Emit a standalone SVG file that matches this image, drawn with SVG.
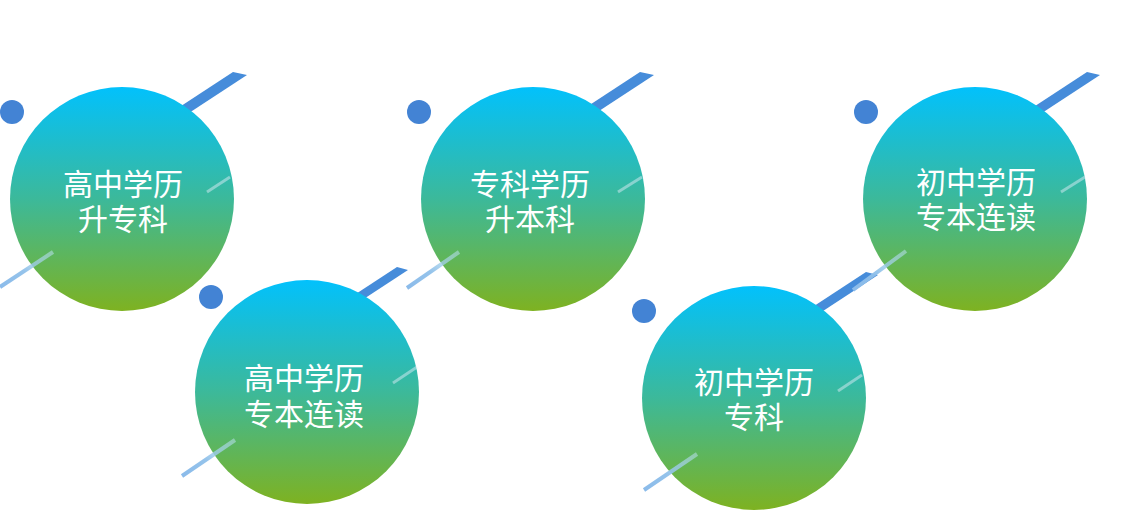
<svg xmlns="http://www.w3.org/2000/svg" width="1132" height="511" viewBox="0 0 1132 511">
<defs>
<linearGradient id="cg" x1="0" y1="0" x2="0" y2="1">
<stop offset="0" stop-color="#02c1fc"/>
<stop offset="0.5" stop-color="#3cb99a"/>
<stop offset="1" stop-color="#7eb221"/>
</linearGradient>
<linearGradient id="llg" x1="0" y1="1" x2="1" y2="0">
<stop offset="0" stop-color="#8bbbea" stop-opacity="1"/>
<stop offset="0.45" stop-color="#8fc0ea" stop-opacity="0.95"/>
<stop offset="1" stop-color="#b8e0ea" stop-opacity="0.55"/>
</linearGradient>
</defs>
<style>
.bar{fill:#468cda}
.dot{fill:#4383d4}
.circ{fill:url(#cg)}
.ll{stroke:url(#llg);stroke-width:4;stroke-linecap:butt;fill:none}
.rl{stroke:#dcecf5;stroke-opacity:0.5;stroke-width:3;fill:none}
.lbl{font-family:"Noto Sans CJK SC","Noto Sans",sans-serif;font-size:30px;fill:#ffffff;text-anchor:middle}
</style>
<rect width="1132" height="511" fill="#ffffff"/>

<g id="node1">
<polygon class="bar" points="233,72 247,75 163,130 149,127"/>
<circle class="dot" cx="12" cy="112" r="12"/>
<circle class="circ" cx="122" cy="199" r="112"/>
<line class="ll" x1="0" y1="287" x2="53" y2="252"/>
<line class="rl" x1="207" y1="192" x2="230" y2="177"/>
<text class="lbl"><tspan x="123" y="195">高中学历</tspan><tspan x="123" y="230">升专科</tspan></text>
</g>

<g id="node2">
<polygon class="bar" points="397,267 408,270 324,325 313,322"/>
<circle class="dot" cx="211" cy="297" r="12"/>
<circle class="circ" cx="307" cy="392" r="112"/>
<line class="ll" x1="182" y1="476" x2="235" y2="440"/>
<line class="rl" x1="393" y1="383" x2="417" y2="367"/>
<text class="lbl"><tspan x="304" y="389">高中学历</tspan><tspan x="304" y="425">专本连读</tspan></text>
</g>

<g id="node3">
<polygon class="bar" points="640,72 654,75 570,130 556,127"/>
<circle class="dot" cx="419" cy="112" r="12"/>
<circle class="circ" cx="533" cy="199" r="112"/>
<line class="ll" x1="407" y1="288" x2="459" y2="252"/>
<line class="rl" x1="618" y1="192" x2="642" y2="177"/>
<text class="lbl"><tspan x="530" y="195">专科学历</tspan><tspan x="530" y="230">升本科</tspan></text>
</g>

<g id="node4">
<polygon class="bar" points="866,272 878,275 794,330 782,327"/>
<circle class="dot" cx="644" cy="311" r="12"/>
<circle class="circ" cx="754" cy="398" r="112"/>
<line class="ll" x1="644" y1="490" x2="697" y2="454"/>
<line class="rl" x1="838" y1="391" x2="862" y2="375"/>
<text class="lbl"><tspan x="754" y="393">初中学历</tspan><tspan x="754" y="428">专科</tspan></text>
</g>

<g id="node5">
<polygon class="bar" points="1087,72 1100,75 1016,130 1003,127"/>
<circle class="dot" cx="866" cy="112" r="12"/>
<circle class="circ" cx="975" cy="199" r="112"/>
<line class="ll" x1="853" y1="290" x2="906" y2="251"/>
<line class="rl" x1="1061" y1="192" x2="1085" y2="177"/>
<text class="lbl"><tspan x="976" y="193">初中学历</tspan><tspan x="976" y="228">专本连读</tspan></text>
</g>
</svg>
